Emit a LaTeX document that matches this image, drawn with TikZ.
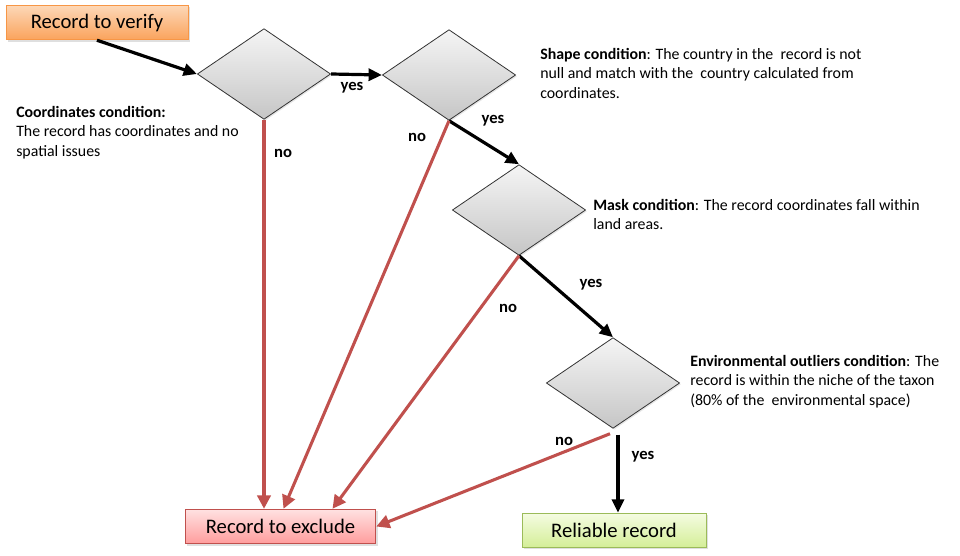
\documentclass[tikz,border=0pt]{standalone}
\usepackage{fontspec}
\setmainfont{Carlito}
\usetikzlibrary{shapes.geometric,arrows.meta,shadows}
\definecolor{noline}{HTML}{C0504D}
\definecolor{startdraw}{HTML}{F79646}
\definecolor{starttop}{HTML}{FDD8B8}
\definecolor{startbot}{HTML}{FAA35C}
\definecolor{excltop}{HTML}{FFE2E2}
\definecolor{exclbot}{HTML}{FF9C9C}
\definecolor{oktop}{HTML}{F5FCE2}
\definecolor{okbot}{HTML}{D4EE98}
\definecolor{okdraw}{HTML}{9BBB59}
\begin{document}
\begin{tikzpicture}[x=0.75pt,y=-0.75pt]
        \useasboundingbox (0,0) rectangle (960,556);
        \begin{scope}[every node/.style={diamond,draw=black!80,line width=0.6pt,minimum width=100pt,minimum height=68pt,inner sep=0pt,top color=gray!8,bottom color=gray!45,drop shadow={opacity=0.2,shadow xshift=1pt,shadow yshift=-1pt}}]
            \node (c1) at (264,74) {};
            \node (c2) at (449,75) {};
            \node (c3) at (519,210) {};
            \node (c4) at (613,383) {};
        \end{scope}
        \begin{scope}[every node/.style={rectangle,line width=0.6pt,inner sep=0pt,font=\fontsize{15.5}{17}\selectfont,drop shadow={opacity=0.25,shadow xshift=1.5pt,shadow yshift=-1.5pt}}]
            \node[draw=startdraw,top color=starttop,bottom color=startbot,minimum width=136.5pt,minimum height=26pt] (start) at (97,22.5) {Record to verify};
            \node[draw=noline,top color=excltop,bottom color=exclbot,minimum width=143pt,minimum height=26pt] (excl) at (280.5,526.5) {Record to exclude};
            \node[draw=okdraw,top color=oktop,bottom color=okbot,minimum width=138pt,minimum height=25.5pt] (ok) at (614,530) {Reliable record};
        \end{scope}
        \begin{scope}[every node/.style={anchor=north west,align=left,inner sep=0pt,font=\fontsize{11.9}{14.6}\selectfont}]
            \node (t1) at (16,106) {\textbf{Coordinates condition:}\\The record has coordinates and no\\spatial issues};
            \node (t2) at (540,48) {\textbf{Shape condition}: The country in the\ \ record is not\\null and match with the\ \ country calculated from\\coordinates.};
            \node (t3) at (593,199) {\textbf{Mask condition}: The record coordinates fall within\\land areas.};
            \node (t4) at (690,355) {\textbf{Environmental outliers condition}: The\\record is within the niche of the taxon\\(80\% of the\ \ environmental space)};
        \end{scope}
        \begin{scope}[every node/.style={inner sep=0pt,font=\fontsize{12.5}{14}\selectfont\bfseries}]
            \node (y1) at (352,88) {yes};
            \node (y2) at (493,121) {yes};
            \node (y3) at (591,285) {yes};
            \node (y4) at (643,457) {yes};
            \node (n1) at (283,153) {no};
            \node (n2) at (417,137) {no};
            \node (n3) at (508,308) {no};
            \node (n4) at (564,441) {no};
        \end{scope}
        \coordinate (c4yes) at ([shift={(5,6)}]c4.south);
        \coordinate (c4no) at ([shift={(-3,5)}]c4.south);
        \begin{scope}[every edge/.style={draw,line width=2.4pt,-{Triangle[length=10pt,width=9pt]}}]
            \path
                (start.south) edge (c1.west)
                (c1.east) edge (c2.west)
                (c2.south) edge (c3.north)
                (c3.south) edge (c4.north)
                (c4yes) edge (c4yes |- ok.north);
        \end{scope}
        \begin{scope}[every edge/.style={draw=noline,line width=2.3pt,-{Triangle[length=10pt,width=10pt]}}]
            \path
                (c1.south) edge (c1.south |- excl.north)
                (c2.south) edge ([shift={(3,0)}]excl.north)
                (c3.south) edge ([shift={(52,0)}]excl.north)
                (c4no) edge (excl.east);
        \end{scope}
    \end{tikzpicture}
\end{document}
